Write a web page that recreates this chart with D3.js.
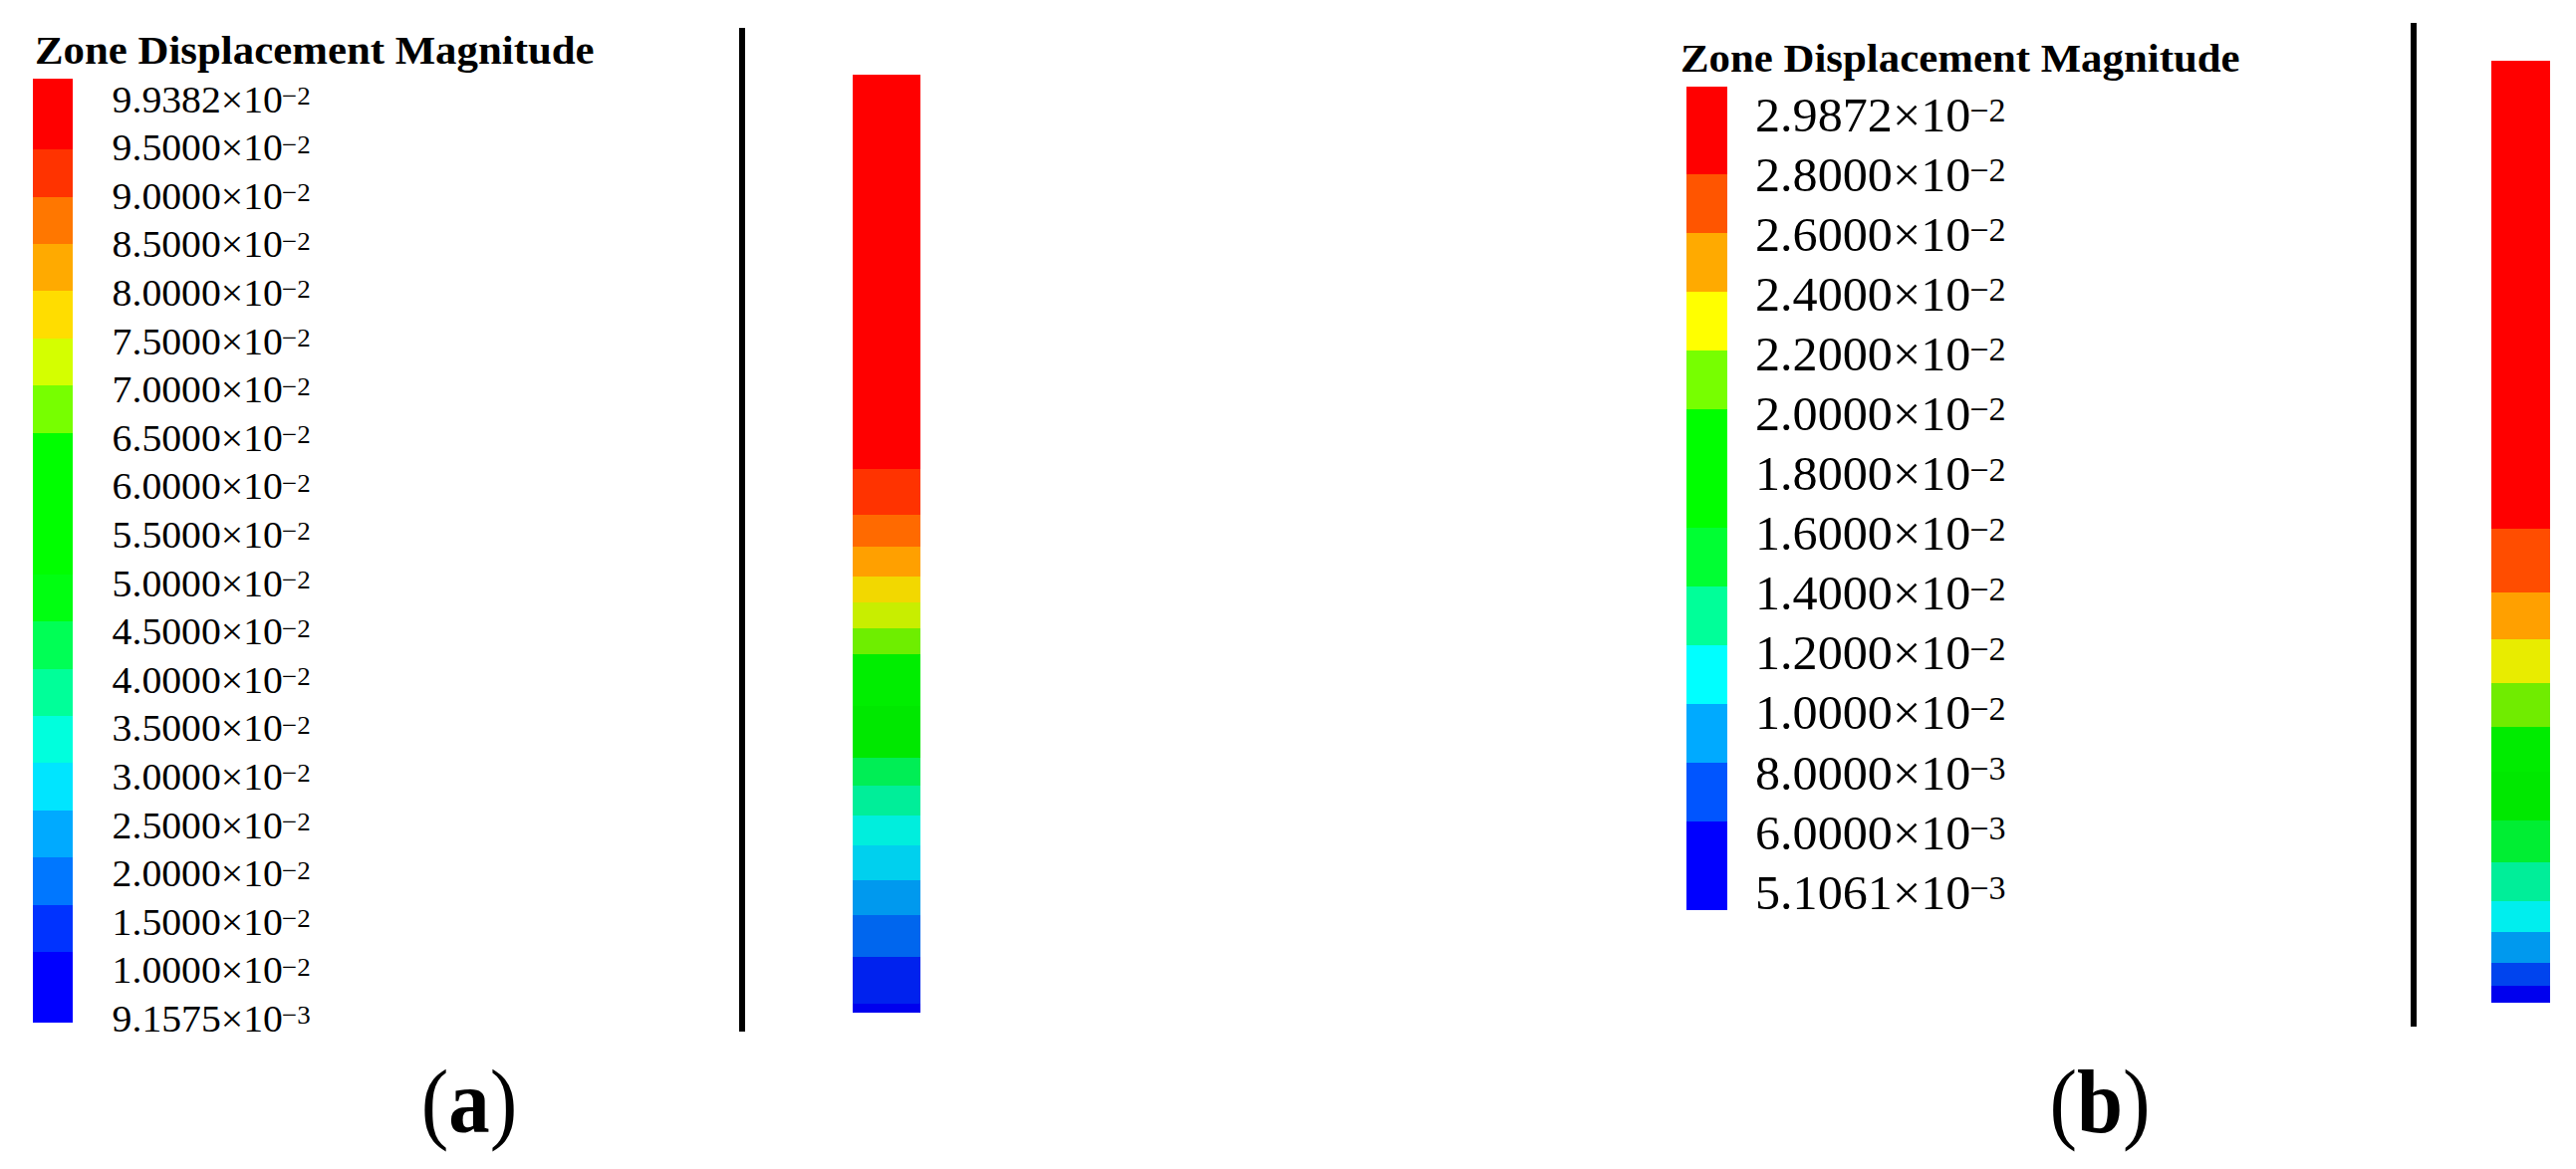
<!DOCTYPE html>
<html>
<head>
<meta charset="utf-8">
<script src="https://cdn.jsdelivr.net/npm/d3@7"></script>
<style>
  html, body { margin: 0; padding: 0; background: #ffffff; }
  svg { display: block; }
</style>
</head>
<body>
<script>
// ---------------- DATA ----------------
const titleText = "Zone Displacement Magnitude";

// Panel (a) legend
const legendAMantissa = ["9.9382","9.5000","9.0000","8.5000","8.0000","7.5000","7.0000","6.5000","6.0000","5.5000",
                         "5.0000","4.5000","4.0000","3.5000","3.0000","2.5000","2.0000","1.5000","1.0000","9.1575"];
const legendAExponent = ["−2","−2","−2","−2","−2","−2","−2","−2","−2","−2",
                         "−2","−2","−2","−2","−2","−2","−2","−2","−2","−3"];
const legendAColors = ["#ff0000","#ff3300","#ff7700","#ffaa00","#ffdd00","#d4ff00","#77ff00","#00ff00","#00ff00","#00ff00",
                       "#00ff11","#00ff55","#00ff99","#00ffdd","#00e5ff","#00aaff","#0077ff","#0033ff","#0000ff"];

// Panel (b) legend
const legendBMantissa = ["2.9872","2.8000","2.6000","2.4000","2.2000","2.0000","1.8000",
                         "1.6000","1.4000","1.2000","1.0000","8.0000","6.0000","5.1061"];
const legendBExponent = ["−2","−2","−2","−2","−2","−2","−2","−2","−2","−2","−2","−3","−3","−3"];
const legendBColors = ["#ff0000","#ff5500","#ffaa00","#ffff00","#77ff00","#00ff00","#00ff00",
                       "#00ff33","#00ff99","#00ffff","#00aaff","#0055ff","#0000ff"];

// Column contour bands: boundaries in % of column height from the top
const columnABreaks = [0, 42.04, 46.92, 50.32, 53.50, 56.26, 59.02, 61.78, 67.30, 72.82,
                       75.80, 78.98, 82.17, 85.88, 89.60, 94.06, 99.04, 100];
const columnAColors = ["#ff0000","#ff3300","#ff6a00","#ffa000","#f2d800","#c8ee00","#6eee00","#00ee00","#00e800",
                       "#00ee55","#00ee99","#00eedd","#00d0ee","#0099ee","#0066ee","#0022ee","#0000ee"];

const columnBBreaks = [0, 49.68, 56.45, 61.42, 66.07, 70.72, 75.48, 80.66, 85.10, 89.22, 92.49, 95.77, 98.20, 100];
const columnBColors = ["#ff0000","#ff4d00","#ffa000","#e8ec00","#70ec00","#00ec00","#00e800",
                       "#00ee33","#00ee99","#00eeee","#0099ee","#0044ee","#0000ee"];

const panelLetters = ["a","b"];

// ---------------- LAYOUT ----------------
const W = 2586, H = 1174;
const serif = "'Liberation Serif', 'Times New Roman', serif";

const panels = [
  {
    letter: panelLetters[0],
    mantissa: legendAMantissa, exponent: legendAExponent, colors: legendAColors,
    colBreaks: columnABreaks, colColors: columnAColors,
    titleX: 35, titleY: 64, titleSize: 41,
    barX: 33, barW: 40, barTop: 79, barBottom: 1027,
    labelX: 112.6, labelFirst: 112.5, labelLast: 1036, labelSize: 38,
    ruleX: 745, ruleTop: 28, ruleBottom: 1036,
    colX: 856, colW: 68, colTop: 75, colBottom: 1017,
    letterX: 471
  },
  {
    letter: panelLetters[1],
    mantissa: legendBMantissa, exponent: legendBExponent, colors: legendBColors,
    colBreaks: columnBBreaks, colColors: columnBColors,
    titleX: 1687, titleY: 72, titleSize: 41,
    barX: 1693, barW: 41, barTop: 86.5, barBottom: 913.5,
    labelX: 1762, labelFirst: 131.7, labelLast: 912.7, labelSize: 48,
    ruleX: 2423, ruleTop: 23, ruleBottom: 1031,
    colX: 2501, colW: 59, colTop: 61, colBottom: 1007,
    letterX: 2108
  }
];

const svg = d3.select("body").append("svg")
  .attr("width", W).attr("height", H)
  .attr("viewBox", `0 0 ${W} ${H}`);

svg.append("rect").attr("width", W).attr("height", H).attr("fill", "#ffffff");

const stretch = 1.045;

panels.forEach(p => {
  const g = svg.append("g");

  // Title
  g.append("g")
    .attr("transform", `translate(${p.titleX},${p.titleY}) scale(${stretch},1)`)
    .append("text")
    .attr("x", 0).attr("y", 0)
    .attr("font-family", serif)
    .attr("font-weight", "bold")
    .attr("font-size", p.titleSize)
    .attr("fill", "#000")
    .text(titleText);

  // Legend colour bar
  const n = p.colors.length;
  const yBar = d3.scaleLinear().domain([-0.5, n + 0.5]).range([p.barTop, p.barBottom]);
  const bands = p.colors.map((c, i) => ({
    color: c,
    y0: i === 0 ? yBar(-0.5) : yBar(i),
    y1: i === n - 1 ? yBar(n + 0.5) : yBar(i + 1)
  }));
  g.append("g").selectAll("rect")
    .data(bands).join("rect")
    .attr("x", p.barX).attr("width", p.barW)
    .attr("y", d => d.y0)
    .attr("height", d => d.y1 - d.y0)
    .attr("fill", d => d.color)
    .attr("shape-rendering", "crispEdges");

  // Legend labels
  const yLab = d3.scaleLinear().domain([0, p.mantissa.length - 1]).range([p.labelFirst, p.labelLast]);
  const labG = g.append("g");
  p.mantissa.forEach((m, i) => {
    const t = labG.append("g")
      .attr("transform", `translate(${p.labelX},${yLab(i)}) scale(${stretch},1)`)
      .append("text")
      .attr("x", 0).attr("y", 0)
      .attr("font-family", serif)
      .attr("font-size", p.labelSize)
      .attr("fill", "#000");
    t.append("tspan").text(m + "×10");
    t.append("tspan")
      .attr("font-size", p.labelSize * 0.68)
      .attr("dy", -p.labelSize * 0.2)
      .attr("dx", -p.labelSize * 0.02)
      .text(p.exponent[i]);
  });

  // Vertical rule
  g.append("line")
    .attr("x1", p.ruleX).attr("x2", p.ruleX)
    .attr("y1", p.ruleTop).attr("y2", p.ruleBottom)
    .attr("stroke", "#000").attr("stroke-width", 6);

  // Column contour
  const yCol = d3.scaleLinear().domain([0, 100]).range([p.colTop, p.colBottom]);
  const colBands = p.colColors.map((c, i) => ({ color: c, a: p.colBreaks[i], b: p.colBreaks[i + 1] }));
  g.append("g").selectAll("rect")
    .data(colBands).join("rect")
    .attr("x", p.colX).attr("width", p.colW)
    .attr("y", d => yCol(d.a))
    .attr("height", d => yCol(d.b) - yCol(d.a))
    .attr("fill", d => d.color)
    .attr("shape-rendering", "crispEdges");

  // Panel letter
  const lt = g.append("g")
    .attr("transform", `translate(${p.letterX},1137) scale(0.9,1)`)
    .append("text")
    .attr("x", 0).attr("y", 0)
    .attr("text-anchor", "middle")
    .attr("font-family", serif)
    .attr("font-size", 92)
    .attr("fill", "#000");
  lt.append("tspan").text("(");
  lt.append("tspan").attr("font-weight", "bold").text(p.letter);
  lt.append("tspan").text(")");
});
</script>
</body>
</html>
